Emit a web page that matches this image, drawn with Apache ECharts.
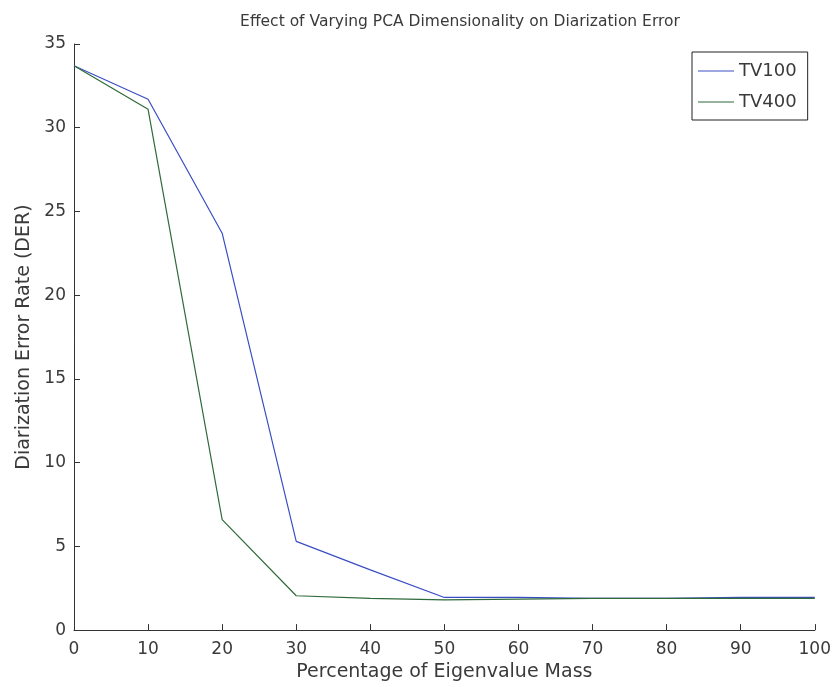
<!DOCTYPE html>
<html>
<head>
<meta charset="utf-8">
<script src="https://cdn.jsdelivr.net/npm/echarts@6/dist/echarts.min.js"></script>
<style>html,body{margin:0;padding:0;background:#fff}#c{width:834px;height:687px}</style>
</head>
<body>
<div id="c"></div>
<script>
const xValues = [0, 10, 20, 30, 40, 50, 60, 70, 80, 90, 100];
const tv100 = [33.7, 31.7, 23.7, 5.3, 3.6, 1.95, 1.95, 1.9, 1.9, 1.95, 1.95];
const tv400 = [33.7, 31.1, 6.6, 2.05, 1.9, 1.8, 1.85, 1.9, 1.9, 1.9, 1.9];
const seriesNames = ['TV100', 'TV400'];
const titleText = 'Effect of Varying PCA Dimensionality on Diarization Error';
const xName = 'Percentage of Eigenvalue Mass';
const yName = 'Diarization Error Rate (DER)';

const chart = echarts.init(document.getElementById('c'), null, {renderer: 'canvas'});
const font = 'DejaVu Sans, sans-serif';
const axisColor = '#333';
const textColor = '#3a3a3a';
chart.setOption({
  animation: false,
  backgroundColor: '#fff',
  title: {
    text: titleText, left: 455, top: 9, textAlign: 'center',
    textStyle: {fontSize: 15.5, fontWeight: 'normal', color: textColor, fontFamily: font}
  },
  grid: {left: 74, right: 16, top: 44, bottom: 54},
  legend: {
    orient: 'vertical', left: 692, top: 52,
    data: seriesNames, icon: 'rect',
    borderColor: '#222', borderWidth: 1,
    padding: [10, 11, 9, 6], itemGap: 13, itemWidth: 36, itemHeight: 1.2,
    textStyle: {fontSize: 18, color: textColor, fontFamily: font, lineHeight: 18}
  },
  xAxis: {
    type: 'value', min: 0, max: 100, interval: 10,
    name: xName, nameLocation: 'middle', nameGap: 26,
    nameTextStyle: {fontSize: 19, color: textColor, fontFamily: font, verticalAlign: 'top'},
    axisLine: {lineStyle: {color: axisColor, width: 1}},
    axisTick: {inside: true, length: 6, lineStyle: {color: axisColor}},
    axisLabel: {fontSize: 17, color: textColor, fontFamily: font, margin: 11},
    splitLine: {show: false}
  },
  yAxis: {
    type: 'value', min: 0, max: 35, interval: 5,
    name: yName, nameLocation: 'middle', nameGap: 36,
    nameTextStyle: {fontSize: 19, color: textColor, fontFamily: font},
    axisLine: {show: true, lineStyle: {color: axisColor, width: 1}},
    axisTick: {show: true, inside: true, length: 6, lineStyle: {color: axisColor}},
    axisLabel: {fontSize: 17, color: textColor, fontFamily: font, margin: 8},
    splitLine: {show: false}
  },
  series: [
    {name: seriesNames[0], type: 'line', symbol: 'none', data: xValues.map((x, i) => [x, tv100[i]]),
     lineStyle: {color: '#3a4ec4', width: 1.2}, itemStyle: {color: '#3a4ec4'}},
    {name: seriesNames[1], type: 'line', symbol: 'none', data: xValues.map((x, i) => [x, tv400[i]]),
     lineStyle: {color: '#2f6a3a', width: 1.2}, itemStyle: {color: '#2f6a3a'}}
  ]
});
</script>
</body>
</html>
